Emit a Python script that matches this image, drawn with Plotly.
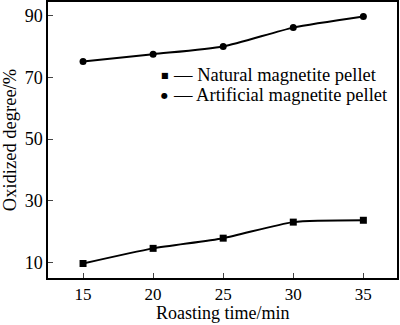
import plotly.graph_objects as go

time_min = [15, 20, 25, 30, 35]
natural = [9.7, 14.6, 17.9, 23.1, 23.7]
artificial = [75.1, 77.5, 80.0, 86.1, 89.7]
x_ticks = [15, 20, 25, 30, 35]
y_ticks = [10, 30, 50, 70, 90]
legend_labels = ["Natural magnetite pellet", "Artificial magnetite pellet"]

FONT = "Liberation Serif, Times New Roman, serif"
PLOT_H = 325 - 0 - 47

fig = go.Figure()
fig.add_trace(go.Scatter(x=time_min, y=natural, mode="lines+markers",
                         line=dict(color="black", width=2, shape="spline", smoothing=0.6),
                         marker=dict(symbol="square", size=7, color="black"),
                         name=legend_labels[0], showlegend=False))
fig.add_trace(go.Scatter(x=time_min, y=artificial, mode="lines+markers",
                         line=dict(color="black", width=2, shape="spline", smoothing=0.6),
                         marker=dict(symbol="circle", size=7, color="black"),
                         name=legend_labels[1], showlegend=False))

for i, (sym, lab) in enumerate(zip(["■", "●"], legend_labels)):
    yy = 0.735 - i * 0.072
    fig.add_annotation(xref="paper", yref="paper", x=0.335, y=yy, xanchor="center", yanchor="middle",
                       text=sym, showarrow=False, font=dict(family="DejaVu Sans", size=8, color="black"))
    fig.add_annotation(xref="paper", yref="paper", x=0.352, y=yy, xanchor="left", yanchor="middle",
                       text="— " + lab, showarrow=False, font=dict(family=FONT, size=18.5, color="black"))

# x-axis title placed just below the tick labels
fig.add_annotation(xref="paper", yref="paper", x=0.5, y=-46.5 / PLOT_H, xanchor="center", yanchor="bottom",
                   text="Roasting time/min", showarrow=False, borderpad=0,
                   font=dict(family=FONT, size=18, color="black"))

fig.update_layout(
    width=400, height=325,
    margin=dict(l=48, r=3, t=0, b=47),
    paper_bgcolor="white", plot_bgcolor="white",
    font=dict(family=FONT, size=18, color="black"),
)
fig.update_xaxes(range=[12.5, 37.4], tickvals=x_ticks, ticks="inside", ticklen=5,
                 showline=True, linecolor="black", linewidth=1.5, mirror=True, showgrid=False,
                 zeroline=False, tickfont=dict(size=17))
fig.update_yaxes(range=[5.0, 94.4], tickvals=y_ticks, ticks="inside", ticklen=5,
                 showline=True, linecolor="black", linewidth=1.5, mirror=True, showgrid=False,
                 zeroline=False, tickfont=dict(size=18),
                 title=dict(text="Oxidized degree/%", font=dict(size=18.5), standoff=3))

fig.write_html("out.html")
